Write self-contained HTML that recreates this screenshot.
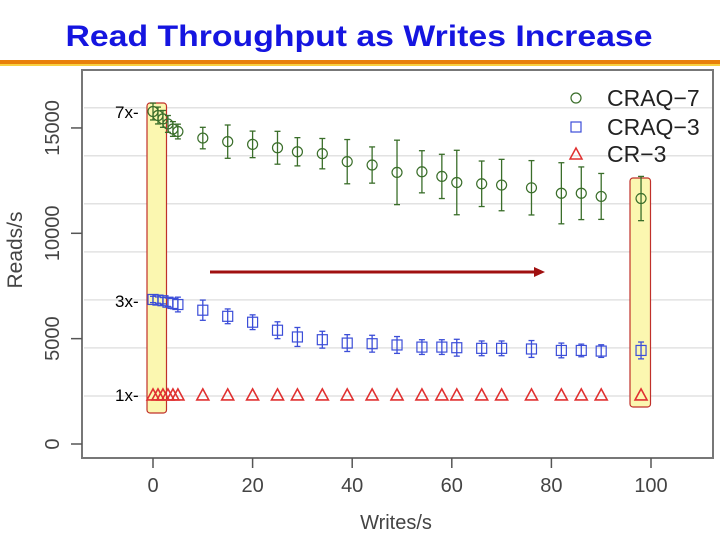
<!DOCTYPE html>
<html><head><meta charset="utf-8"><style>
html,body{margin:0;padding:0;background:#fff;}
svg{display:block;font-family:"Liberation Sans",sans-serif;}
</style></head><body>
<svg id="c" width="720" height="540" viewBox="0 0 720 540">
<text x="359" y="46" text-anchor="middle" font-size="30" font-weight="bold" fill="#1515e0" textLength="587" lengthAdjust="spacingAndGlyphs">Read Throughput as Writes Increase</text>
<rect x="0" y="60" width="720" height="4" fill="#e8800a"/>
<rect x="0" y="64" width="720" height="2" fill="#f8d040"/>
<g id="grid"></g>
<rect x="82" y="70" width="631" height="388" fill="none" stroke="#777" stroke-width="2"/>
<rect x="147" y="103" width="19.5" height="310" rx="3" fill="#fbf7b0" stroke="#c0302a" stroke-width="1.2"/>
<rect x="630" y="178" width="20.5" height="229" rx="3" fill="#fbf7b0" stroke="#c0302a" stroke-width="1.2"/>
<g id="axes"></g>
<g id="marks"></g>
<line x1="210" y1="272" x2="536" y2="272" stroke="#a01010" stroke-width="3"/>
<polygon points="534,267 545,272 534,277" fill="#a01010"/>
<text x="115" y="118" font-size="17" fill="#000">7x-</text>
<text x="115" y="307" font-size="17" fill="#000">3x-</text>
<text x="115" y="401" font-size="17" fill="#000">1x-</text>
<g>
<circle cx="576" cy="98" r="5" fill="none" stroke="#3a6e2a" stroke-width="1.2"/>
<text x="607" y="106" font-size="23" fill="#222">CRAQ−7</text>
<rect x="571" y="122" width="10" height="10" fill="none" stroke="#3c4ed8" stroke-width="1.2"/>
<text x="607" y="135" font-size="23" fill="#222">CRAQ−3</text>
<polygon points="576,148 582,159 570,159" fill="none" stroke="#e03030" stroke-width="1.5"/>
<text x="607" y="162" font-size="23" fill="#222">CR−3</text>
</g>
<text x="396" y="529" text-anchor="middle" font-size="20" fill="#444">Writes/s</text>
<text transform="translate(22,250) rotate(-90)" text-anchor="middle" font-size="21" fill="#444">Reads/s</text>
</svg>
<script>
const xs=[0,1,2,3,4,5,10,15,20,25,29,34,39,44,49,54,58,61,66,70,76,82,86,90,98];
const craq7=[15780,15590,15430,15190,14950,14830,14520,14350,14220,14060,13870,13780,13400,13240,12890,12920,12700,12410,12350,12290,12160,11900,11900,11750,11650];
const craq7Err=[400,400,400,400,350,350,510,790,630,780,670,720,1050,860,1530,1000,1050,1530,1080,1220,1290,1450,1250,1090,1050];
const craq3=[6860,6830,6800,6730,6670,6620,6350,6060,5780,5400,5080,4950,4790,4760,4700,4600,4600,4570,4540,4540,4510,4440,4440,4410,4440];
const craq3Err=[150,150,150,200,250,350,480,350,350,400,450,400,400,400,400,350,350,400,350,350,400,350,300,300,400];
const cr3=[2330,2330,2330,2330,2330,2330,2330,2330,2330,2330,2330,2330,2330,2330,2330,2330,2330,2330,2330,2330,2330,2330,2330,2330,2330];
const xTicks=[0,20,40,60,80,100];
const yTicks=[0,5000,10000,15000];
const gridVals=[15960,13680,11400,9120,6840,4560,2280];
const NS="http://www.w3.org/2000/svg";
function X(v){return 153+v*4.98;}
function Y(v){return 444-v*0.02107;}
function mk(p,t,a){const e=document.createElementNS(NS,t);for(const k in a)e.setAttribute(k,a[k]);p.appendChild(e);return e;}
const grid=document.getElementById('grid'),axes=document.getElementById('axes'),marks=document.getElementById('marks');
gridVals.forEach(v=>{const y=Y(v);
 const l=mk(grid,'line',{x1:84,x2:712,y1:y,y2:y,stroke:'#e2e2e2','stroke-width':1.5});
 
 });
yTicks.forEach(v=>{const y=Y(v);
 const l=mk(axes,'line',{x1:71,x2:82,y1:y,y2:y,stroke:'#555','stroke-width':1.5});
 
 
 const t=mk(axes,'text',{transform:`translate(59,${y}) rotate(-90)`,'text-anchor':'middle','font-size':20,fill:'#444'});
 t.textContent=v;
 
 });
xTicks.forEach(v=>{const x=X(v);
 const l=mk(axes,'line',{x1:x,x2:x,y1:458,y2:468,stroke:'#555','stroke-width':1.5});
 
 
 const t=mk(axes,'text',{x:x,y:492,'text-anchor':'middle','font-size':20,fill:'#444'});
 t.textContent=v;
 
 });
function errbar(x,v,e,col){const g=mk(marks,'g',{stroke:col,'stroke-width':1.3});
 
 
 mk(g,'line',{x1:x,x2:x,y1:Y(v-e),y2:Y(v+e)});
 mk(g,'line',{x1:x-3,x2:x+3,y1:Y(v-e),y2:Y(v-e)});
 mk(g,'line',{x1:x-3,x2:x+3,y1:Y(v+e),y2:Y(v+e)});}
xs.forEach((xv,i)=>{const x=X(xv);
 errbar(x,craq7[i],craq7Err[i],'#3a6e2a');
 const c=mk(marks,'circle',{cx:x,cy:Y(craq7[i]),r:5,fill:'none',stroke:'#3a6e2a','stroke-width':1.2});
 
 
 errbar(x,craq3[i],craq3Err[i],'#3c4ed8');
 const s=mk(marks,'rect',{x:x-5,y:Y(craq3[i])-5,width:10,height:10,fill:'none',stroke:'#3c4ed8','stroke-width':1.2});
 
 
 const y=Y(cr3[i]);
 const p=mk(marks,'polygon',{points:`${x},${y-6} ${x+6},${y+5} ${x-6},${y+5}`,fill:'none',stroke:'#e03030','stroke-width':1.6});
 
 });
</script>
</body></html>
